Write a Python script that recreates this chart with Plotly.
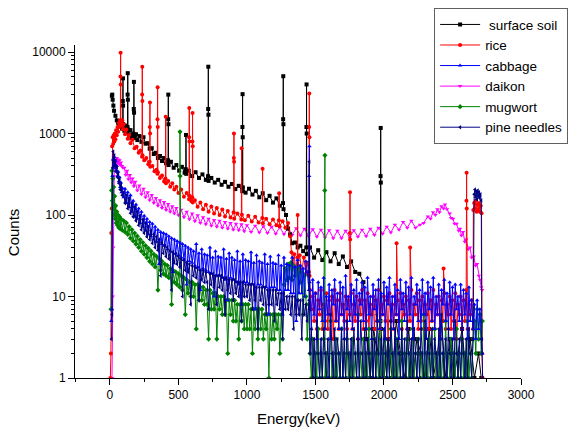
import plotly.graph_objects as go

# ---------------- data (energy keV, counts) ----------------
# shared channel grids (keV) for the dense, noisy parts of the spectra
GRID_A = [100, 110, 120, 130, 140, 150, 160, 170, 180, 190,
          200, 210, 220, 230, 240, 250, 260, 270, 280, 290,
          300, 310, 320, 330, 340, 350, 360, 370, 380, 390,
          400, 410, 420, 430, 440, 450, 460, 470, 480, 490,
          500, 510, 520, 530, 540, 550, 560, 570, 580, 590,
          600, 610, 620, 630, 640, 650, 660, 670, 680, 690,
          700, 710, 720, 730, 740, 750, 760, 770, 780, 790,
          800, 810, 820, 830, 840, 850, 860, 870, 880, 890,
          900, 910, 920, 930, 940, 950, 960, 970, 980, 990,
          1000, 1010, 1020, 1030, 1040, 1050, 1060, 1070, 1080, 1090,
          1100, 1110, 1120, 1130, 1140, 1150, 1160, 1170, 1180, 1190,
          1200, 1210, 1220, 1230, 1240, 1250, 1260, 1270, 1280, 1290,
          1300, 1310, 1320, 1330, 1340, 1350, 1360, 1370, 1380, 1390,
          1400, 1410, 1420, 1430, 1440]
GRID_B = [1460, 1470, 1480, 1490, 1500, 1510, 1520, 1530, 1540, 1550,
          1560, 1570, 1580, 1590, 1600, 1610, 1620, 1630, 1640, 1650,
          1660, 1670, 1680, 1690, 1700, 1710, 1720, 1730, 1740, 1750,
          1760, 1770, 1780, 1790, 1800, 1810, 1820, 1830, 1840, 1850,
          1860, 1870, 1880, 1890, 1900, 1910, 1920, 1930, 1940, 1950,
          1960, 1970, 1980, 1990, 2000, 2010, 2020, 2030, 2040, 2050,
          2060, 2070, 2080, 2090, 2100, 2110, 2120, 2130, 2140, 2150,
          2160, 2170, 2180, 2190, 2200, 2210, 2220, 2230, 2240, 2250,
          2260, 2270, 2280, 2290, 2300, 2310, 2320, 2330, 2340, 2350,
          2360, 2370, 2380, 2390, 2400, 2410, 2420, 2430, 2440, 2450,
          2460, 2470, 2480, 2490, 2500, 2510, 2520, 2530, 2540, 2550,
          2560, 2570, 2580, 2590, 2600, 2610, 2620, 2630, 2640, 2650]

# ---- surface soil ----
soil_points = [
    (14, 2900), (17, 3000), (20, 2600), (25, 2200), (30, 1900), (40, 1650), (50, 1450), (60, 1350),
    (70, 1250), (80, 1300), (88, 1150), (93, 1250), (94, 2500), (95, 4750), (96, 2200), (97, 1300),
    (105, 1080), (115, 1250), (125, 1020), (128, 1200), (129, 3000), (130, 5500), (131, 2600), (132, 1120),
    (140, 950), (150, 1100), (160, 880), (170, 1000), (173, 950), (174, 2000), (175, 4300), (176, 1800),
    (177, 880), (190, 980), (200, 830), (215, 930), (230, 790), (245, 900), (260, 750), (275, 760),
    (290, 650), (305, 660), (320, 560), (335, 580), (350, 500), (365, 530), (380, 460), (395, 500),
    (410, 430), (424, 470), (425, 1500), (426, 3000), (427, 1300), (428, 410), (445, 450), (465, 380),
    (485, 410), (505, 350), (525, 390), (545, 330), (553, 365), (555, 960), (557, 320), (575, 350),
    (600, 300), (625, 335), (650, 285), (675, 315), (700, 270), (716, 300), (717, 2000), (718, 6600),
    (719, 1700), (720, 262), (740, 285), (765, 250), (790, 270), (815, 235), (840, 255), (865, 222),
    (890, 240), (915, 208), (940, 228), (966, 196), (967, 1200), (968, 3040), (969, 900), (970, 218),
    (990, 188), (1015, 210), (1040, 178), (1065, 198), (1090, 165), (1115, 185), (1140, 152), (1165, 172),
    (1190, 142), (1215, 160), (1240, 130), (1263, 140), (1264, 1500), (1265, 5050), (1266, 1300),
    (1267, 118), (1285, 100), (1300, 68), (1315, 58), (1330, 45), (1350, 46), (1370, 40), (1390, 42),
    (1410, 36), (1433, 40), (1434, 1200), (1435, 4000), (1436, 1000), (1437, 33), (1460, 40), (1490, 30),
    (1520, 37), (1550, 28), (1580, 35), (1610, 27), (1640, 34), (1670, 25), (1700, 31), (1730, 23),
    (1760, 27), (1790, 20), (1820, 19), (1850, 15), (1875, 3), (1900, 1), (1925, 4), (1950, 2),
    (1974, 5), (1975, 300), (1976, 1170), (1977, 250), (1978, 4), (2000, 1), (2030, 3), (2060, 1),
    (2090, 5), (2120, 2), (2150, 1), (2180, 4), (2210, 1), (2240, 3), (2270, 2), (2300, 1), (2330, 4),
    (2360, 1), (2390, 2), (2420, 5), (2450, 1), (2480, 3), (2510, 1), (2540, 2), (2570, 4),
    (2600, 1), (2630, 3), (2660, 1), (2690, 2), (2710, 1),
]

# ---- rice ----
rice_points = [
    (3, 1), (7, 2), (10, 60), (13, 120), (16, 700), (20, 900), (24, 750), (28, 950), (32, 800),
    (36, 1000), (40, 850), (45, 1100), (50, 950), (55, 1200), (60, 1050), (65, 1350), (70, 1200),
    (74, 1450), (76, 1300), (77, 5000), (78, 9800), (79, 4000), (80, 1400), (85, 1250), (90, 1450),
    (95, 1120), (100, 1300), (110, 980), (120, 1120), (130, 860), (140, 960), (150, 760), (165, 840),
    (180, 660), (195, 690), (210, 580), (222, 620), (234, 520), (235, 3000), (236, 6600), (237, 2500),
    (238, 540), (250, 470), (265, 500), (280, 420), (290, 450), (291, 1200), (292, 2400), (293, 1000),
    (294, 390), (310, 400), (325, 345), (340, 360), (346, 320), (347, 1500), (348, 3700), (349, 1200),
    (350, 335), (365, 285), (380, 305), (395, 258), (405, 280), (407, 1600), (409, 245), (425, 262),
    (440, 222), (455, 245), (470, 205), (485, 222), (500, 186), (520, 205), (540, 168), (560, 186),
    (577, 156), (578, 900), (579, 2050), (580, 800), (581, 172), (595, 148), (601, 165), (602, 800),
    (603, 1780), (604, 700), (605, 142), (620, 152), (640, 126), (660, 142), (680, 118), (700, 134),
    (720, 110), (740, 127), (760, 104), (780, 122), (800, 100), (820, 117), (840, 96), (860, 112),
    (880, 93), (903, 108), (904, 500), (905, 1000), (906, 450), (907, 90), (930, 104), (959, 88),
    (961, 660), (963, 101), (985, 86), (1010, 98), (1035, 83), (1060, 95), (1085, 81), (1112, 92),
    (1114, 370), (1116, 79), (1140, 90), (1165, 77), (1190, 88), (1215, 75), (1233, 86), (1235, 185),
    (1237, 73), (1260, 84), (1280, 70), (1300, 80), (1315, 55), (1325, 35), (1335, 25), (1345, 33),
    (1355, 21), (1368, 30), (1370, 100), (1372, 24), (1385, 32), (1400, 20), (1415, 30), (1430, 19),
    (1445, 26), (1453, 20), (1454, 1200), (1455, 3100), (1456, 900), (1457, 18),
    (1751, 60), (1752, 190), (1753, 50), (2092, 45), (2191, 40), (2435, 22),
    (2602, 150), (2603, 330), (2604, 120),
    (2652, 115), (2658, 140), (2664, 120), (2670, 150), (2676, 110), (2682, 135), (2688, 115),
    (2694, 140), (2700, 110), (2706, 130), (2712, 105), (2716, 2), (2720, 1),
]
rice_counts_B = [12, 7, 10, 5, 11, 4, 9, 6, 12, 4,
                 8, 5, 11, 4, 9, 6, 10, 3, 12, 5,
                 9, 4, 11, 6, 8, 5, 10, 4, 9, 6,
                 11, 4, 8, 5, 10, 3, 9, 6, 12, 4,
                 9, 5, 11, 4, 8, 6, 10, 4, 9, 5,
                 12, 4, 8, 6, 10, 5, 9, 3, 11, 5,
                 8, 4, 10, 6, 9, 5, 11, 4, 8, 6,
                 10, 4, 9, 5, 12, 3, 8, 6, 11, 4,
                 9, 5, 10, 4, 8, 6, 11, 4, 9, 5,
                 12, 4, 8, 6, 10, 3, 9, 5, 11, 4,
                 8, 6, 10, 4, 9, 5, 11, 3, 8, 6,
                 10, 4, 9, 5, 12, 4, 8, 6, 9, 4]

# ---- cabbage ----
cabbage_points = [
    (10, 5), (15, 7), (18, 300), (22, 480), (26, 380), (30, 520), (35, 400), (40, 460), (45, 350),
    (50, 400), (55, 300), (60, 340), (65, 260), (70, 290), (75, 220), (80, 250), (85, 190), (90, 215),
    (1452, 12), (1454, 300), (1456, 700), (1458, 15),
    (2660, 8), (2670, 3), (2680, 9), (2690, 4), (2700, 7), (2710, 3), (2718, 2),
]
cabbage_counts_A = [165, 210, 140, 190, 125, 175, 110, 150, 95, 135,
                    90, 120, 80, 110, 72, 98, 64, 90, 58, 82,
                    55, 78, 50, 72, 47, 66, 25, 62, 44, 60,
                    42, 58, 38, 55, 36, 52, 20, 50, 34, 48,
                    32, 46, 30, 44, 28, 42, 14, 40, 27, 38,
                    26, 36, 24, 44, 23, 34, 12, 38, 22, 33,
                    21, 32, 20, 40, 19, 30, 10, 36, 18, 31,
                    18, 30, 17, 38, 16, 29, 9, 34, 17, 30,
                    16, 28, 15, 36, 14, 27, 8, 33, 15, 28,
                    15, 27, 14, 35, 14, 26, 7, 32, 14, 27,
                    14, 26, 13, 33, 13, 25, 6, 31, 13, 26,
                    13, 25, 12, 32, 12, 24, 6, 30, 12, 25,
                    12, 24, 11, 30, 11, 23, 5, 28, 11, 24,
                    11, 22, 10, 27, 20]
cabbage_counts_B = [12, 4, 16, 6, 11, 3, 15, 7, 13, 5,
                    17, 4, 10, 6, 14, 3, 12, 8, 16, 5,
                    11, 4, 15, 6, 13, 3, 18, 7, 10, 5,
                    14, 4, 12, 6, 16, 3, 11, 8, 15, 5,
                    13, 4, 17, 6, 10, 3, 14, 7, 12, 5,
                    16, 4, 11, 6, 15, 3, 13, 8, 17, 5,
                    10, 4, 14, 6, 12, 3, 16, 7, 11, 5,
                    15, 4, 13, 6, 17, 3, 10, 8, 14, 5,
                    12, 4, 16, 6, 11, 3, 15, 7, 13, 5,
                    17, 4, 10, 6, 14, 3, 12, 8, 16, 5,
                    11, 4, 15, 6, 13, 3, 14, 7, 10, 5,
                    14, 4, 12, 6, 11, 3, 13, 5, 9, 4]

# ---- daikon ----
daikon_points = [
    (15, 1), (20, 10), (24, 40), (28, 300), (32, 420), (36, 380), (40, 460), (45, 420), (50, 500),
    (55, 450), (60, 480), (65, 430), (70, 470), (75, 410), (80, 440), (88, 400), (95, 380), (105, 380),
    (115, 310), (125, 350), (135, 275), (145, 310), (155, 250), (165, 280), (175, 225), (185, 255),
    (200, 200), (215, 230), (230, 180), (245, 210), (260, 165), (275, 190), (290, 152), (305, 176),
    (320, 140), (335, 162), (350, 130), (365, 152), (380, 122), (395, 144), (410, 115), (425, 136),
    (440, 110), (455, 128), (470, 104), (485, 122), (500, 99), (520, 116), (540, 94), (560, 110),
    (580, 89), (600, 104), (620, 84), (640, 99), (660, 80), (680, 94), (700, 77), (720, 90), (740, 74),
    (760, 87), (780, 72), (800, 85), (820, 70), (840, 82), (860, 68), (880, 80), (900, 66), (920, 78),
    (940, 65), (960, 77), (980, 63), (1000, 75), (1030, 62), (1060, 74), (1090, 61), (1120, 73),
    (1150, 60), (1180, 72), (1210, 59), (1240, 71), (1270, 58), (1300, 70), (1330, 57), (1360, 69),
    (1390, 56), (1420, 68), (1450, 55), (1480, 67), (1510, 54), (1540, 66), (1570, 53), (1600, 65),
    (1630, 52), (1660, 64), (1690, 52), (1720, 64), (1750, 53), (1780, 65), (1810, 54), (1840, 66),
    (1870, 55), (1900, 68), (1930, 57), (1960, 70), (1990, 59), (2020, 72), (2050, 61), (2080, 76),
    (2110, 66), (2140, 82), (2170, 70), (2200, 85), (2230, 70), (2263, 76), (2290, 80), (2320, 96),
    (2340, 90), (2358, 108), (2375, 100), (2390, 118), (2405, 108), (2420, 128), (2435, 120),
    (2445, 135), (2460, 118), (2480, 104), (2490, 92), (2504, 90), (2515, 78), (2530, 78), (2545, 64),
    (2555, 68), (2565, 56), (2577, 62), (2590, 47), (2600, 50), (2615, 38), (2628, 40), (2640, 30),
    (2655, 31), (2668, 24), (2679, 25), (2692, 18), (2701, 16), (2710, 13), (2716, 12),
]

# ---- mugwort ----
mugwort_points = [
    (8, 7), (12, 200), (15, 350), (18, 150), (21, 280), (24, 120), (27, 220), (30, 100), (34, 170),
    (38, 90), (42, 130), (46, 80), (50, 110), (55, 75), (60, 100), (65, 70), (70, 95), (75, 68),
    (80, 90), (90, 65), (511, 1050), (512, 300), (1450, 8), (1568, 200), (1569, 540),
    (2660, 5), (2670, 2), (2680, 7), (2690, 3), (2700, 6), (2710, 2), (2718, 5),
]
mugwort_counts_A = [85, 62, 80, 58, 72, 52, 66, 48, 60, 44,
                    55, 40, 50, 36, 46, 33, 42, 30, 39, 27,
                    36, 25, 33, 23, 31, 12, 29, 21, 27, 19,
                    25, 18, 24, 17, 22, 8, 21, 15, 20, 14,
                    19, 13, 18, 12, 17, 6, 16, 11, 15, 10,
                    15, 10, 14, 4, 14, 9, 13, 9, 13, 8,
                    12, 8, 3, 12, 7, 11, 7, 11, 3, 10,
                    7, 10, 6, 10, 6, 9, 2, 9, 6, 9,
                    5, 9, 5, 8, 3, 8, 5, 8, 4, 8,
                    4, 8, 4, 7, 2, 7, 4, 7, 3, 7,
                    4, 7, 3, 6, 4, 6, 1, 6, 3, 6,
                    3, 6, 4, 6, 2, 6, 3, 14, 22, 16,
                    25, 17, 26, 16, 24, 18, 22, 9, 23, 15,
                    20, 6, 18, 10, 3]
mugwort_counts_B = [2, 1, 3, 1, 2, 1, 4, 1, 2, 1,
                    3, 1, 2, 1, 1, 5, 1, 2, 1, 3,
                    1, 2, 1, 4, 1, 2, 1, 3, 1, 2,
                    1, 3, 1, 2, 1, 6, 1, 2, 1, 3,
                    1, 2, 1, 4, 1, 2, 1, 3, 1, 2,
                    1, 5, 1, 2, 1, 3, 1, 2, 1, 4,
                    1, 2, 1, 3, 1, 2, 1, 5, 1, 2,
                    1, 3, 1, 2, 1, 4, 1, 2, 1, 3,
                    1, 2, 1, 6, 1, 2, 1, 3, 1, 2,
                    1, 4, 1, 2, 1, 3, 1, 2, 1, 5,
                    1, 2, 1, 3, 1, 2, 1, 4, 1, 2,
                    1, 3, 1, 2, 1, 5, 1, 2, 1, 3]

# ---- pine needles ----
pine_points = [
    (12, 3), (16, 6), (20, 380), (24, 600), (28, 450), (32, 540), (36, 400), (40, 470), (45, 340),
    (50, 390), (55, 290), (60, 330), (65, 245), (70, 280), (75, 205), (80, 235), (90, 175),
    (1453, 9), (1455, 450), (1457, 7),
    (2658, 180), (2664, 205), (2669, 165), (2674, 195), (2679, 155), (2684, 200), (2689, 170),
    (2694, 190), (2699, 160), (2704, 180), (2710, 150), (2714, 3), (2720, 1),
]
pine_counts_A = [190, 140, 175, 120, 160, 105, 140, 95, 125, 85,
                 110, 75, 98, 66, 88, 60, 80, 54, 72, 50,
                 64, 45, 58, 40, 54, 37, 50, 18, 46, 34,
                 42, 31, 40, 29, 37, 12, 35, 26, 33, 25,
                 31, 23, 29, 10, 28, 21, 26, 20, 25, 8,
                 24, 18, 23, 17, 22, 9, 21, 16, 21, 15,
                 20, 15, 7, 19, 14, 19, 13, 18, 8, 18,
                 13, 18, 12, 17, 6, 17, 12, 16, 11, 16,
                 9, 16, 11, 15, 10, 15, 5, 15, 10, 14,
                 10, 14, 9, 14, 7, 14, 9, 13, 4, 13,
                 9, 13, 8, 13, 6, 12, 8, 12, 8, 12,
                 5, 12, 8, 11, 7, 11, 3, 11, 7, 10,
                 7, 10, 6, 10, 4, 10, 6, 9, 6, 9,
                 3, 9, 6, 8, 5]
pine_counts_B = [2, 4, 1, 3, 1, 5, 2, 1, 3, 1,
                 4, 2, 1, 3, 1, 6, 2, 1, 4, 1,
                 3, 2, 1, 4, 1, 3, 1, 5, 2, 1,
                 3, 1, 4, 2, 1, 3, 1, 5, 2, 1,
                 4, 1, 3, 2, 1, 4, 1, 3, 1, 6,
                 2, 1, 3, 1, 4, 2, 1, 3, 1, 5,
                 2, 1, 4, 1, 3, 2, 1, 4, 1, 3,
                 1, 5, 2, 1, 3, 1, 4, 2, 1, 3,
                 1, 4, 2, 1, 5, 1, 3, 2, 1, 4,
                 1, 3, 2, 1, 4, 1, 6, 2, 1, 3,
                 1, 4, 2, 1, 3, 1, 5, 2, 1, 3,
                 1, 4, 2, 1, 3, 1, 4, 2, 1, 3]

x_tick_vals = [0, 500, 1000, 1500, 2000, 2500, 3000]
y_tick_vals = [1, 10, 100, 1000, 10000]
y_tick_text = ["1", "10", "100", "1000", "10000"]


def combine(points, counts_a=None, counts_b=None):
    pts = list(points)
    if counts_a is not None:
        assert len(counts_a) == len(GRID_A), len(counts_a)
        pts += list(zip(GRID_A, counts_a))
    if counts_b is not None:
        assert len(counts_b) == len(GRID_B), len(counts_b)
        pts += list(zip(GRID_B, counts_b))
    pts.sort(key=lambda p: p[0])
    return [p[0] for p in pts], [p[1] for p in pts]


soil_E, soil_C = combine(soil_points)
rice_E, rice_C = combine(rice_points, None, rice_counts_B)
cab_E, cab_C = combine(cabbage_points, cabbage_counts_A, cabbage_counts_B)
dai_E, dai_C = combine(daikon_points)
mug_E, mug_C = combine(mugwort_points, mugwort_counts_A, mugwort_counts_B)
pine_E, pine_C = combine(pine_points, pine_counts_A, pine_counts_B)

# legend name, energies, counts, colour, marker symbol, legend rank ; list order = drawing order
series = [
    ("daikon", dai_E, dai_C, "#ff00ff", "triangle-down", 4),
    ("\u00a0surface soil", soil_E, soil_C, "#000000", "square", 1),
    ("rice", rice_E, rice_C, "#ff0000", "circle", 2),
    ("mugwort", mug_E, mug_C, "#008000", "diamond", 5),
    ("cabbage", cab_E, cab_C, "#0000ff", "triangle-up", 3),
    ("pine needles", pine_E, pine_C, "#000080", "triangle-left", 6),
]

FONT = "Arial, 'Liberation Sans', sans-serif"

fig = go.Figure()
for name, ex, cy, color, symbol, rank in series:
    fig.add_trace(go.Scatter(
        x=ex, y=cy, mode="lines+markers", name=name, legendrank=rank,
        line=dict(color=color, width=1),
        marker=dict(color=color, symbol=symbol, size=4, line=dict(width=0)),
    ))

minor_y = [m * d for d in (1, 10, 100, 1000) for m in range(2, 10)]
minor_x = [-250, 250, 750, 1250, 1750, 2250, 2750]

fig.update_layout(
    width=575, height=430,
    margin=dict(l=75, r=54, t=45, b=52, autoexpand=False),
    paper_bgcolor="white", plot_bgcolor="white",
    font=dict(family=FONT, color="black", size=12),
    showlegend=True,
    legend=dict(
        x=0.755, y=0.981, xref="container", yref="container",
        xanchor="left", yanchor="top",
        bgcolor="white", bordercolor="#606060", borderwidth=1,
        font=dict(family=FONT, size=13.5, color="black"),
        tracegroupgap=0, itemwidth=40,
    ),
    xaxis=dict(
        range=[-255, 3000], showgrid=False, zeroline=False,
        showline=True, linecolor="black", linewidth=1,
        ticks="outside", ticklen=6, tickwidth=1, tickcolor="black",
        tickmode="array", tickvals=x_tick_vals,
        tickfont=dict(family=FONT, size=12, color="black"),
        minor=dict(ticks="outside", ticklen=3, tickwidth=1, tickcolor="black",
                   tickmode="array", tickvals=minor_x, showgrid=False),
    ),
    yaxis=dict(
        type="log", range=[0, 4.086], showgrid=False, zeroline=False,
        showline=True, linecolor="black", linewidth=1,
        ticks="outside", ticklen=6, tickwidth=1, tickcolor="black",
        tickmode="array", tickvals=y_tick_vals, ticktext=y_tick_text,
        tickfont=dict(family=FONT, size=12, color="black"),
        minor=dict(ticks="outside", ticklen=3, tickwidth=1, tickcolor="black",
                   tickmode="array", tickvals=minor_y, showgrid=False),
    ),
    annotations=[
        dict(text="Energy(keV)", xref="paper", yref="paper", x=0.5, y=-0.123,
             xanchor="center", yanchor="middle", showarrow=False,
             font=dict(family=FONT, size=15, color="black")),
        dict(text="Counts", xref="paper", yref="paper", x=-0.139, y=0.438,
             xanchor="center", yanchor="middle", showarrow=False, textangle=-90,
             font=dict(family=FONT, size=15, color="black")),
    ],
)

fig.write_html(
    "out.html",
    config={"displayModeBar": False},
    post_script="document.body.style.margin='0px';document.body.style.padding='0px';",
)
